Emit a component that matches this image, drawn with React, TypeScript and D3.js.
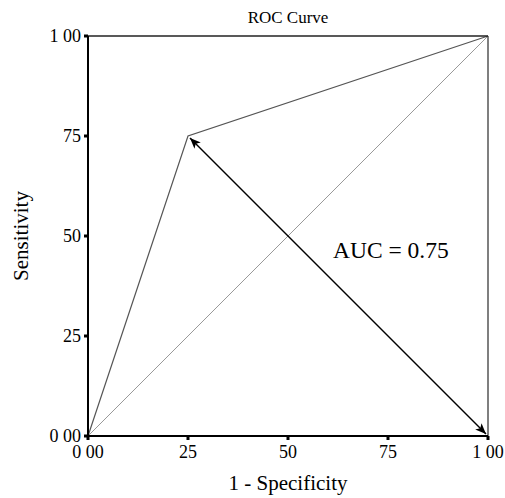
import React from 'react';
import * as d3 from 'd3';

// ROC points (1 - specificity, sensitivity)
const rocX = [0, 0.25, 1];
const rocY = [0, 0.75, 1];
const tickValues = [0, 0.25, 0.5, 0.75, 1];
const tickLabels = ['0 00', '25', '50', '75', '1 00'];
const aucLabel = 'AUC = 0.75';

const width = 505;
const height = 498;
const margin = { top: 36, right: 17, bottom: 62, left: 88 };
const innerW = width - margin.left - margin.right;
const innerH = height - margin.top - margin.bottom;

const App = () => {
  const x = d3.scaleLinear().domain([0, 1]).range([margin.left, margin.left + innerW]);
  const y = d3.scaleLinear().domain([0, 1]).range([margin.top + innerH, margin.top]);

  const line = d3.line<number>().x((_, i) => x(rocX[i])).y((d) => y(d));
  const rocPath = line(rocY) || '';
  const txt = { fontFamily: "'Liberation Serif', 'Times New Roman', Times, serif" };

  return (
    <svg width={width} height={height} style={{ position: 'absolute', left: 0, top: 0 }}>
      <defs>
        <marker id="ah" viewBox="0 0 12 10" refX="12" refY="5" markerWidth="12" markerHeight="9" orient="auto-start-reverse" markerUnits="userSpaceOnUse">
          <path d="M0,0 L12,5 L0,10 L3,5 z" fill="#000" />
        </marker>
      </defs>
      <text x={x(0.5)} y={23} textAnchor="middle" style={txt} fontSize={17}>ROC Curve</text>

      {/* diagonal reference */}
      <line x1={x(0)} y1={y(0)} x2={x(1)} y2={y(1)} stroke="#999" strokeWidth={1} />
      {/* ROC curve */}
      <path d={rocPath} fill="none" stroke="#555" strokeWidth={1.2} />
      {/* right border */}
      <line x1={x(1)} y1={y(0)} x2={x(1)} y2={y(1)} stroke="#555" strokeWidth={1.5} />
      {/* top border */}
      <line x1={x(0)} y1={y(1)} x2={x(1)} y2={y(1)} stroke="#222" strokeWidth={1.5} />
      {/* axes */}
      <line x1={x(0)} y1={y(0)} x2={x(0)} y2={y(1)} stroke="#000" strokeWidth={2} />
      <line x1={x(0)} y1={y(0)} x2={x(1)} y2={y(0)} stroke="#000" strokeWidth={2} />

      {/* double arrow */}
      <line
        x1={x(rocX[1]) + 2}
        y1={y(rocY[1]) + 2}
        x2={x(1) - 2}
        y2={y(0) - 2}
        stroke="#000"
        strokeWidth={1.5}
        markerStart="url(#ah)"
        markerEnd="url(#ah)"
      />

      {tickValues.map((t, i) => (
        <g key={'y' + i}>
          <line x1={x(0) - 4} x2={x(0)} y1={y(t)} y2={y(t)} stroke="#000" strokeWidth={3} />
          <text x={x(0) - 7} y={y(t) + 6} textAnchor="end" style={txt} fontSize={18}>{tickLabels[i]}</text>
        </g>
      ))}
      {tickValues.map((t, i) => (
        <g key={'x' + i}>
          <line x1={x(t)} x2={x(t)} y1={y(0)} y2={y(0) + 4} stroke="#000" strokeWidth={3} />
          <text x={x(t)} y={y(0) + 22} textAnchor="middle" style={txt} fontSize={18}>{tickLabels[i]}</text>
        </g>
      ))}

      <text x={x(0.5)} y={490} textAnchor="middle" style={txt} fontSize={21}>1 - Specificity</text>
      <text transform={`translate(28,${y(0.5)}) rotate(-90)`} textAnchor="middle" style={txt} fontSize={21}>Sensitivity</text>
      <text x={333} y={258} style={txt} fontSize={23.5}>{aucLabel}</text>
    </svg>
  );
};

export default App;
